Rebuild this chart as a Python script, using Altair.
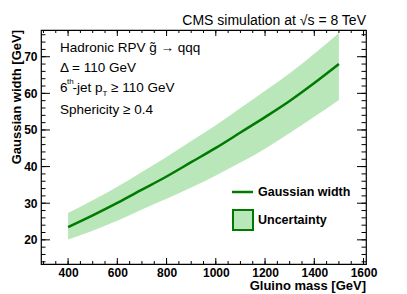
import altair as alt
import pandas as pd

# ---- data ----
mass = [400, 500, 600, 700, 800, 900, 1000, 1100, 1200, 1300, 1400, 1500]
width = [23.5, 26.7, 30.1, 33.7, 37.3, 41.2, 45.1, 49.3, 53.5, 57.9, 62.8, 68.0]
upper = [27.3, 30.8, 34.5, 38.5, 42.6, 47.0, 51.3, 56.0, 60.7, 65.5, 70.8, 76.5]
lower = [20.1, 22.5, 25.2, 28.3, 31.2, 34.3, 37.6, 41.1, 44.9, 49.2, 53.6, 58.2]

x_major = [400, 600, 800, 1000, 1200, 1400, 1600]
x_minor = list(range(300, 1601, 50))
y_major = [20, 30, 40, 50, 60, 70]
y_minor = list(range(14, 77, 2))

W, H = 325, 234
XD = [290, 1610]
YD = [13.4, 77.3]
FONT = "Liberation Sans"
DARK = "#007a00"
LIGHT = "#7fd37f"

df = pd.DataFrame({"mass": mass, "width": width, "upper": upper, "lower": lower})

xs = alt.Scale(domain=XD, nice=False, zero=False)
ys = alt.Scale(domain=YD, nice=False, zero=False)

xaxis = alt.Axis(values=x_major, ticks=False, tickSize=0, domain=False, grid=False,
                 labelFont=FONT, labelFontWeight="bold", labelFontSize=12,
                 labelColor="black", labelPadding=3, title=None, format="d")
yaxis = alt.Axis(values=y_major, ticks=False, tickSize=0, domain=False, grid=False,
                 labelFont=FONT, labelFontWeight="bold", labelFontSize=12,
                 labelColor="black", labelPadding=4, title=None, format="d")

band = alt.Chart(df).mark_area(color=LIGHT, opacity=0.55, interpolate="monotone").encode(
    x=alt.X("mass:Q", scale=xs, axis=xaxis),
    y=alt.Y("upper:Q", scale=ys, axis=yaxis),
    y2="lower:Q",
)
line = alt.Chart(df).mark_line(color=DARK, strokeWidth=2.5, interpolate="monotone").encode(
    x=alt.X("mass:Q", scale=xs),
    y=alt.Y("width:Q", scale=ys),
)

def xticks(vals, length):
    d = pd.DataFrame({"v": vals})
    b = alt.Chart(d).mark_rule(color="black", strokeWidth=1).encode(
        x=alt.X("v:Q", scale=xs), y=alt.value(H), y2=alt.value(H - length))
    t = alt.Chart(d).mark_rule(color="black", strokeWidth=1).encode(
        x=alt.X("v:Q", scale=xs), y=alt.value(0), y2=alt.value(length))
    return [b, t]

def yticks(vals, length):
    d = pd.DataFrame({"v": vals})
    l = alt.Chart(d).mark_rule(color="black", strokeWidth=1).encode(
        y=alt.Y("v:Q", scale=ys), x=alt.value(0), x2=alt.value(length))
    r = alt.Chart(d).mark_rule(color="black", strokeWidth=1).encode(
        y=alt.Y("v:Q", scale=ys), x=alt.value(W), x2=alt.value(W - length))
    return [l, r]

ticks = xticks(x_minor, 3) + xticks(x_major, 6) + yticks(y_minor, 4.5) + yticks(y_major, 9)

one = pd.DataFrame({"a": [0]})

def txt(s, x, y, size=13.5, weight="normal", align="left", baseline="middle", angle=0):
    return alt.Chart(one).mark_text(text=s, font=FONT, fontSize=size, fontWeight=weight,
                                    align=align, baseline=baseline, angle=angle,
                                    color="black").encode(x=alt.value(x), y=alt.value(y))

texts = [
    txt("CMS simulation at \u221as = 8 TeV", W, -9, size=14, align="right"),
    txt("Hadronic RPV g\u0303 \u2192 qqq", 19, 18),
    txt("\u0394 = 110 GeV", 19, 38),
    txt("6", 19, 58),
    txt("th", 26, 52, size=8),
    txt("-jet p", 31.5, 58),
    txt("T", 61.5, 63.5, size=8),
    txt("\u2265 110 GeV", 70, 58),
    txt("Sphericity \u2265 0.4", 19, 80),
    txt("Gluino mass [GeV]", W, 256, size=13, weight="bold", align="right"),
    txt("Gaussian width [GeV]", -24, 0, size=13, weight="bold", align="right", angle=270),
    txt("Gaussian width", 217, 162, size=12.5, weight="bold"),
    txt("Uncertainty", 217, 190, size=12.5, weight="bold"),
]

leg_line = alt.Chart(one).mark_rule(color=DARK, strokeWidth=2.5).encode(
    x=alt.value(191), x2=alt.value(212), y=alt.value(162))
leg_box = alt.Chart(one).mark_rect(fill=LIGHT, fillOpacity=0.55, stroke=DARK, strokeWidth=2).encode(
    x=alt.value(192), x2=alt.value(212), y=alt.value(180), y2=alt.value(200))

chart = alt.layer(band, line, *ticks, leg_line, leg_box, *texts).properties(
    width=W, height=H,
    autosize=alt.AutoSizeParams(type="none"),
    padding={"left": 33, "top": 22, "right": 20, "bottom": 30},
    background="white",
).configure_view(stroke="black", strokeWidth=1.2)

chart.save("out.html", embed_options={"renderer": "svg", "actions": False})
